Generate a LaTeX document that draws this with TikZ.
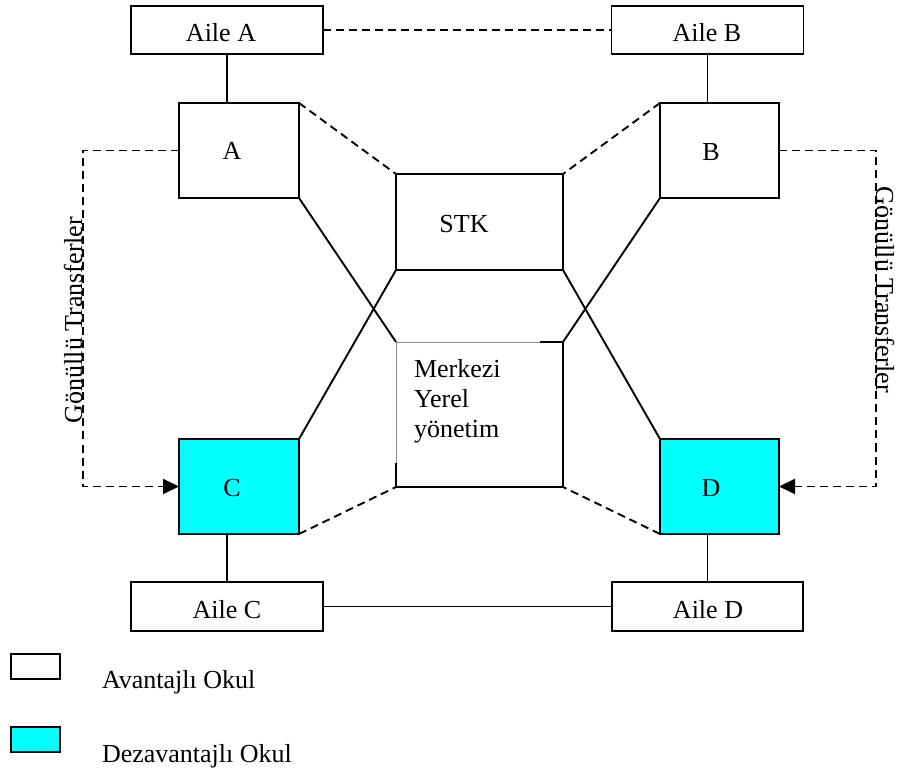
\documentclass[tikz,border=0pt]{standalone}
\usepackage{fontspec}
\setmainfont{Liberation Serif}
\usetikzlibrary{arrows.meta}
\definecolor{aqua}{HTML}{00FFFF}
\begin{document}
\begin{tikzpicture}[x=1pt,y=-1pt,
  lw/.style={line width=1.9pt},
  box/.style={draw, lw, inner sep=0pt, outer sep=0pt, fill=white},
  famstyle/.style={box, minimum width=192pt, minimum height=48pt},
  school/.style={box, minimum width=120pt, minimum height=95pt},
  weak/.style={school, fill=aqua},
  central/.style={box, minimum width=167pt},
  legbox/.style={box, minimum width=49pt, minimum height=25pt},
  txt/.style={font=\fontsize{26}{30.5}\selectfont, inner sep=0pt, outer sep=0pt, anchor=base},
  solidline/.style={lw},
  dashline/.style={lw, dash pattern=on 8pt off 5pt},
  tip/.style={-{Triangle[length=16pt,width=15pt]}}]
\useasboundingbox (0,0) rectangle (898,770);

% families
\node[famstyle] (aileA) at (227,30) {};
\node[famstyle] (aileB) at (707.5,30) {};
\node[famstyle, minimum height=49pt] (aileC) at (227,606.5) {};
\node[famstyle, minimum height=49pt, minimum width=191pt] (aileD) at (707.5,606.5) {};

% schools
\node[school] (A) at (239,150.5) {};
\node[school, minimum width=119pt] (B) at (719.5,150.5) {};
\node[weak] (C) at (239,486.5) {};
\node[weak, minimum width=119pt] (D) at (719.5,486.5) {};

% institutions
\node[central, minimum height=96pt] (stk) at (479.5,222) {};
\node[central, minimum height=145pt, draw=none] (mer) at (479.5,414.5) {};
\draw[line width=0.6pt, black!45] (mer.south west) -- (mer.north west) -- (mer.north east);
\draw[lw] ([xshift=-23pt]mer.north east) -- (mer.north east) -- (mer.south east)
  -- (mer.south west) -- ([yshift=24pt]mer.south west);

% family links
\draw[dashline] (aileA.east) -- (aileB.west);
\draw[solidline] (aileC.east) -- (aileD.west);
\draw[solidline] (aileA.south) -- (aileA.south |- A.north);
\draw[solidline] (aileB.south) -- (aileB.south |- B.north);
\draw[solidline] (aileC.north) -- (aileC.north |- C.south);
\draw[solidline] (aileD.north) -- (aileD.north |- D.south);

% links to the institutions
\draw[dashline] (A.north east) -- (stk.north west);
\draw[dashline] (B.north west) -- (stk.north east);
\draw[dashline] (C.south east) -- (mer.south west);
\draw[dashline] (D.south west) -- (mer.south east);
\draw[solidline] (A.south east) -- (mer.north west);
\draw[solidline] (C.north east) -- (stk.south west);
\draw[solidline] (B.south west) -- (mer.north east);
\draw[solidline] (D.north west) -- (stk.south east);

% voluntary transfers
\draw[dashline, tip] (A.west) -- ++(-96,0) |- (C.west);
\draw[dashline, tip] (B.east) -- ++(97,0) |- (D.east);
\node[txt, rotate=90] (gtL) at (82,320) {Gönüllü Transferler};
\node[txt, rotate=-90] (gtR) at (876,290) {Gönüllü Transferler};

% labels
\node[txt] (tAileA) at (221,42) {Aile A};
\node[txt] (tAileB) at (707,42) {Aile B};
\node[txt] (tAileC) at (227,618) {Aile C};
\node[txt] (tAileD) at (708,618) {Aile D};
\node[txt] (tA) at (232,160) {A};
\node[txt] (tB) at (711,161) {B};
\node[txt] (tC) at (232,496) {C};
\node[txt] (tD) at (711,496) {D};
\node[txt] (tSTK) at (464,233) {STK};
\node[txt, anchor=base west, align=left] (tMer) at (414,438) {Merkezi\\Yerel\\yönetim};

% legend
\node[legbox] (legW) at (35.5,666.5) {};
\node[legbox, fill=aqua] (legC) at (35.5,739.5) {};
\node[txt, anchor=base west] (legWt) at (102,688) {Avantajlı Okul};
\node[txt, anchor=base west] (legCt) at (102,762) {Dezavantajlı Okul};
\end{tikzpicture}
\end{document}
